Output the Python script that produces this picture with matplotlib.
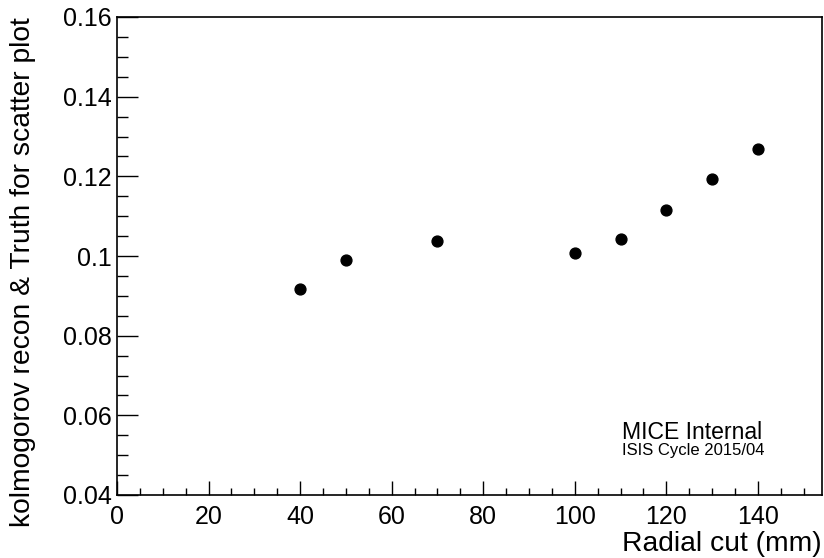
import matplotlib
matplotlib.use("Agg")
import matplotlib.pyplot as plt
from matplotlib.ticker import MultipleLocator, FuncFormatter

radial_cut = [40, 50, 70, 100, 110, 120, 130, 140]
ks_value = [0.0917, 0.0990, 0.1038, 0.1008, 0.1043, 0.1115, 0.1193, 0.1268]

x_label = "Radial cut (mm)"
y_label = "kolmogorov recon & Truth for scatter plot"
note_main = "MICE Internal"
note_sub = "ISIS Cycle 2015/04"

plt.rcParams['font.family'] = ['Liberation Sans', 'DejaVu Sans']

fig = plt.figure(figsize=(8.24, 5.58), dpi=100)
ax = fig.add_axes([117/824, 1 - 495/558, (822 - 117)/824, (495 - 17)/558])

ax.plot(radial_cut, ks_value, 'o', color='black', markersize=7.8, linestyle='none')

ax.set_xlim(0, 154)
ax.set_ylim(0.04, 0.16)

ax.xaxis.set_major_locator(MultipleLocator(20))
ax.xaxis.set_minor_locator(MultipleLocator(5))
ax.yaxis.set_major_locator(MultipleLocator(0.02))
ax.yaxis.set_minor_locator(MultipleLocator(0.005))

def yfmt(v, pos):
    s = f"{v:.2f}"
    if s.endswith("0"):
        s = s[:-1]
    return s

ax.yaxis.set_major_formatter(FuncFormatter(yfmt))
ax.xaxis.set_major_formatter(FuncFormatter(lambda v, p: f"{int(round(v))}"))

ax.tick_params(axis='both', which='both', direction='in', top=False, right=False,
               labelsize=18, width=1.0, color='black')
ax.tick_params(axis='x', which='major', length=10, pad=7)
ax.tick_params(axis='x', which='minor', length=5)
ax.tick_params(axis='y', which='major', length=15, pad=4)
ax.tick_params(axis='y', which='minor', length=8)

for s in ax.spines.values():
    s.set_linewidth(1.2)
    s.set_color('black')

fig.text(822/824, 1 - 551/558, x_label, ha='right', va='baseline', fontsize=20.3)
fig.text(23/824, 1 - 17/558, y_label, ha='center', va='top', rotation=90, fontsize=20.3)

fig.text(622/824, 1 - 439/558, note_main, ha='left', va='baseline', fontsize=16.6)
fig.text(622/824, 1 - 455/558, note_sub, ha='left', va='baseline', fontsize=12)

fig.savefig("out.png", dpi=100)
